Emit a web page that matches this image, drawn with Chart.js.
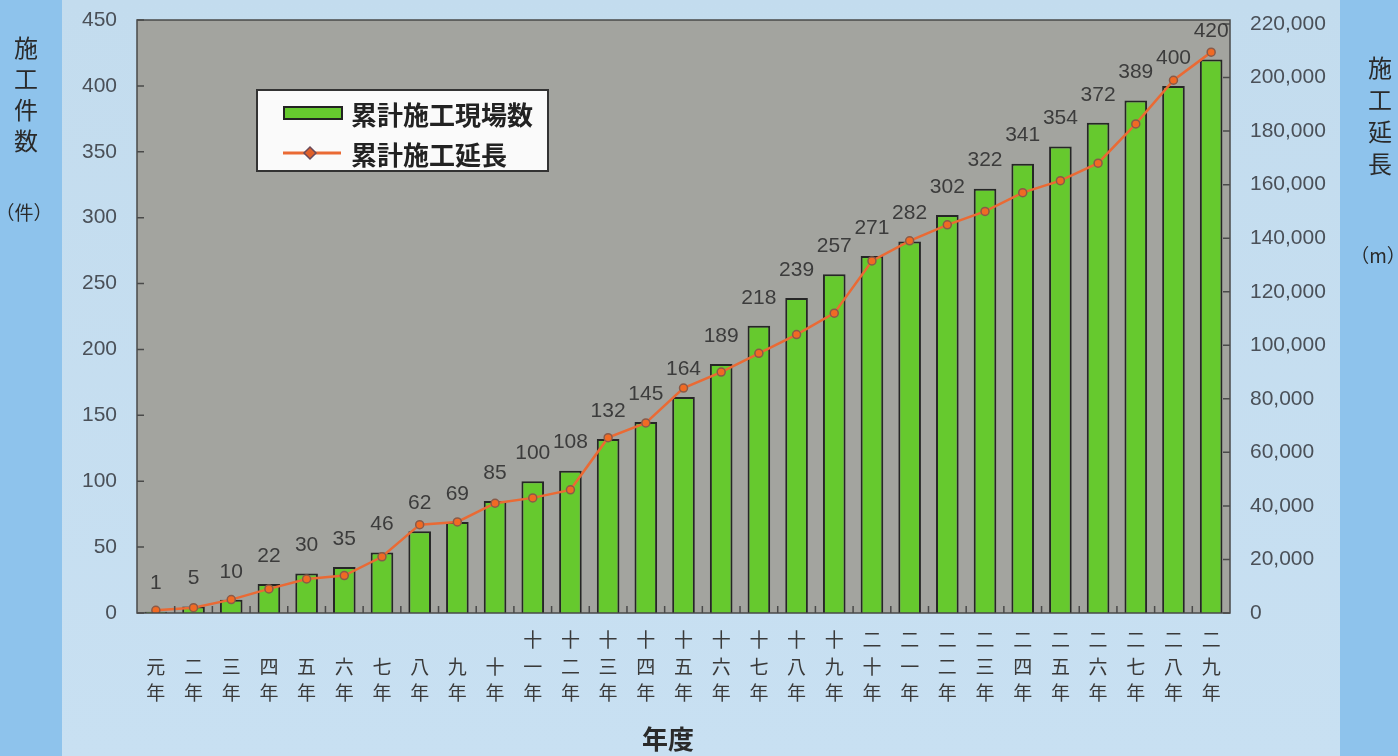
<!DOCTYPE html>
<html>
<head>
<meta charset="utf-8">
<script src="https://cdn.jsdelivr.net/npm/chart.js@4"></script>
<style>
  html, body { margin: 0; padding: 0; background: #8ec3ec; }
  #wrap { width: 1398px; height: 756px; }
</style>
</head>
<body>
<div id="wrap"><canvas id="chart" width="1398" height="756"></canvas></div>
<script>
// 年度ラベル（縦書き、下揃え）
const yearLabels = [
  ["", "元", "年"], ["", "二", "年"], ["", "三", "年"], ["", "四", "年"], ["", "五", "年"],
  ["", "六", "年"], ["", "七", "年"], ["", "八", "年"], ["", "九", "年"], ["", "十", "年"],
  ["十", "一", "年"], ["十", "二", "年"], ["十", "三", "年"], ["十", "四", "年"], ["十", "五", "年"],
  ["十", "六", "年"], ["十", "七", "年"], ["十", "八", "年"], ["十", "九", "年"], ["二", "十", "年"],
  ["二", "一", "年"], ["二", "二", "年"], ["二", "三", "年"], ["二", "四", "年"], ["二", "五", "年"],
  ["二", "六", "年"], ["二", "七", "年"], ["二", "八", "年"], ["二", "九", "年"]
]
// 累計施工現場数（件）
const siteCounts = [1, 5, 10, 22, 30, 35, 46, 62, 69, 85, 100, 108, 132, 145, 164, 189, 218, 239, 257, 271, 282, 302, 322, 341, 354, 372, 389, 400, 420]
// 累計施工延長（m）
const totalLength = [1000, 2000, 5000, 9000, 12700, 14000, 21000, 33000, 34000, 41000, 43000, 46000, 65500, 71000, 84000, 90000, 97000, 104000, 112000, 131500, 139000, 145000, 150000, 157000, 161500, 168000, 182700, 199000, 209500]
// 右軸の目盛
const lengthTicks = [0, 20000, 40000, 60000, 80000, 100000, 120000, 140000, 160000, 180000, 200000, 220000]

const barName = "累計施工現場数"
const lineName = "累計施工延長"
const barGreen = "#66c92e"
const lineOrange = "#ea6a34"
const cjk = "'Noto Sans CJK JP', sans-serif"
const latin = "'Liberation Sans', Arial, sans-serif"

const decorPlugin = {
  id: "decor",
  beforeDraw(chart) {
    const ctx = chart.ctx
    const a = chart.chartArea
    ctx.save()
    ctx.fillStyle = "#8ec3ec"
    ctx.fillRect(0, 0, chart.width, chart.height)
    const g = ctx.createLinearGradient(0, 0, 0, chart.height)
    g.addColorStop(0, "#c3dcee")
    g.addColorStop(1, "#c8e0f2")
    ctx.fillStyle = g
    ctx.fillRect(62, 0, 1340 - 62, chart.height)
    ctx.fillStyle = "#a3a49f"
    ctx.fillRect(a.left, a.top, a.right - a.left, a.bottom - a.top)
    ctx.restore()
  },
  afterDatasetsDraw(chart) {
    const ctx = chart.ctx
    const a = chart.chartArea
    const yl = chart.scales.y
    const yr = chart.scales.y1
    const x = chart.scales.x
    ctx.save()
    // plot frame
    ctx.strokeStyle = "#4a4a4a"
    ctx.lineWidth = 1.5
    ctx.strokeRect(a.left, a.top, a.right - a.left, a.bottom - a.top)
    // inward tick marks
    ctx.beginPath()
    yl.ticks.forEach(t => {
      const py = yl.getPixelForValue(t.value)
      ctx.moveTo(a.left, py); ctx.lineTo(a.left + 7, py)
    })
    yr.ticks.forEach(t => {
      const py = yr.getPixelForValue(t.value)
      ctx.moveTo(a.right, py); ctx.lineTo(a.right - 7, py)
    })
    for (let i = 1; i < yearLabels.length; i++) {
      const px = (x.getPixelForValue(i - 1) + x.getPixelForValue(i)) / 2
      ctx.moveTo(px, a.bottom); ctx.lineTo(px, a.bottom - 7)
    }
    ctx.stroke()

    // value labels above bars
    const bars = chart.getDatasetMeta(1).data
    ctx.fillStyle = "#3c3c3c"
    ctx.font = "21px " + latin
    ctx.textAlign = "center"
    ctx.textBaseline = "middle"
    bars.forEach((b, i) => {
      ctx.fillText(String(siteCounts[i]), b.x, b.y - 28)
    })

    // legend box
    ctx.fillStyle = "#fafafa"
    ctx.fillRect(257, 90, 291, 81)
    ctx.strokeStyle = "#333"
    ctx.lineWidth = 2
    ctx.strokeRect(257, 90, 291, 81)
    ctx.fillStyle = barGreen
    ctx.fillRect(284, 107, 58, 12)
    ctx.strokeStyle = "#222"
    ctx.strokeRect(284, 107, 58, 12)
    ctx.strokeStyle = lineOrange
    ctx.lineWidth = 3
    ctx.beginPath(); ctx.moveTo(283, 153); ctx.lineTo(341, 153); ctx.stroke()
    ctx.fillStyle = "#e0602a"
    ctx.strokeStyle = "#6a4a5a"
    ctx.lineWidth = 1.5
    ctx.beginPath()
    ctx.moveTo(310, 147); ctx.lineTo(316, 153); ctx.lineTo(310, 159); ctx.lineTo(304, 153); ctx.closePath()
    ctx.fill(); ctx.stroke()
    ctx.fillStyle = "#222"
    ctx.font = "bold 26px " + cjk
    ctx.textAlign = "left"
    ctx.fillText(barName, 351, 115)
    ctx.fillText(lineName, 351, 155)

    // axis titles
    ctx.fillStyle = "#2a2a2a"
    ctx.textAlign = "center"
    ctx.font = "24px " + cjk
    ;["施", "工", "件", "数"].forEach((c, i) => ctx.fillText(c, 26, 48 + i * 31))
    ctx.font = "19px " + cjk
    ctx.fillText("（件）", 24, 213)
    ctx.font = "24px " + cjk
    ;["施", "工", "延", "長"].forEach((c, i) => ctx.fillText(c, 1380, 68 + i * 32))
    ctx.font = "19px " + cjk
    ctx.fillText("（m）", 1378, 256)
    ctx.font = "bold 26px " + cjk
    ctx.fillText("年度", 668, 739)
    ctx.restore()
  }
}

function noTopPad(scale) {
  scale.paddingTop = 0
  scale.paddingBottom = 0
}

new Chart(document.getElementById("chart"), {
  data: {
    labels: yearLabels,
    datasets: [
      {
        type: "line",
        label: lineName,
        data: totalLength,
        yAxisID: "y1",
        borderColor: lineOrange,
        borderWidth: 2.5,
        pointRadius: 4,
        pointBackgroundColor: "#f06a24",
        pointBorderColor: "#8a5a48",
        pointBorderWidth: 1.5,
        tension: 0,
        order: 0
      },
      {
        type: "bar",
        label: barName,
        data: siteCounts,
        yAxisID: "y",
        backgroundColor: barGreen,
        borderColor: "#262626",
        borderWidth: 2,
        barPercentage: 0.6,
        categoryPercentage: 1,
        order: 1
      }
    ]
  },
  options: {
    responsive: false,
    animation: false,
    devicePixelRatio: 1,
    layout: { padding: { top: 20, left: 0, right: 0, bottom: 0 } },
    plugins: {
      legend: { display: false },
      tooltip: { enabled: false }
    },
    scales: {
      x: {
        grid: { display: false, drawTicks: false },
        border: { display: false },
        ticks: {
          padding: 14,
          color: "#3a3a3a",
          font: { size: 19, family: cjk, lineHeight: 1.38 },
          maxRotation: 0,
          autoSkip: false
        },
        afterFit(scale) { scale.height = 143 }
      },
      y: {
        position: "left",
        min: 0,
        max: 450,
        grid: { display: false, drawTicks: false },
        border: { display: false },
        ticks: {
          stepSize: 50,
          padding: 20,
          color: "#4a5058",
          font: { size: 21, family: latin }
        },
        afterFit(scale) { scale.width = 137; noTopPad(scale) }
      },
      y1: {
        position: "right",
        min: 0,
        max: 221500,
        grid: { display: false, drawTicks: false },
        border: { display: false },
        afterBuildTicks(scale) { scale.ticks = lengthTicks.map(v => ({ value: v })) },
        ticks: {
          padding: 20,
          color: "#4a5058",
          font: { size: 21, family: latin },
          callback: v => v.toLocaleString("en-US")
        },
        afterFit(scale) { scale.width = 168; noTopPad(scale) }
      }
    }
  },
  plugins: [decorPlugin]
})
</script>
</body>
</html>
